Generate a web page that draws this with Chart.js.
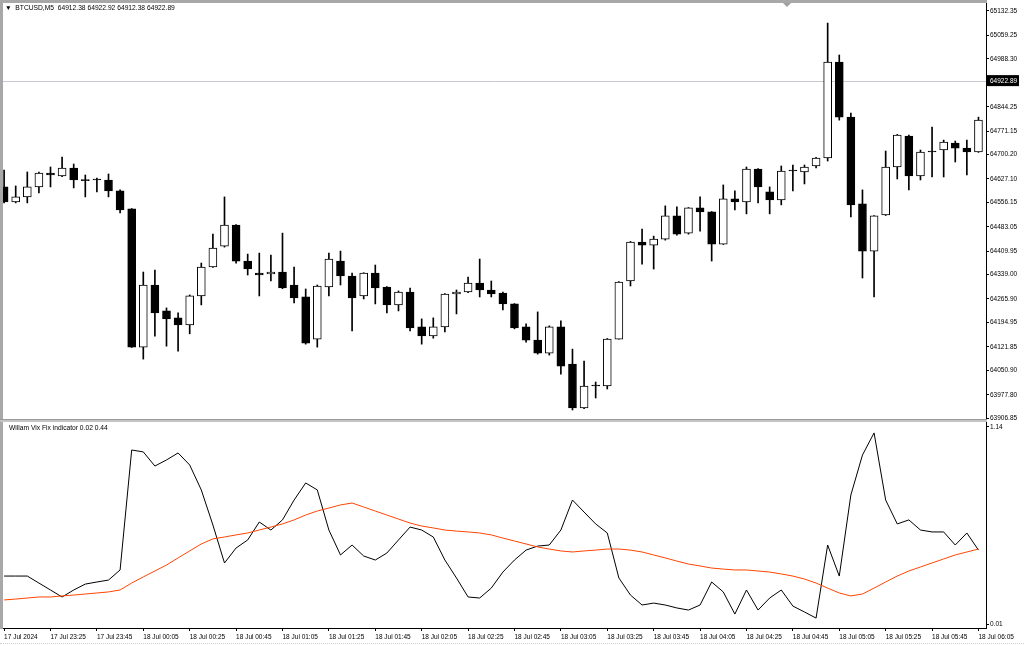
<!DOCTYPE html>
<html>
<head>
<meta charset="utf-8">
<script src="https://cdn.jsdelivr.net/npm/chart.js@4.4.1/dist/chart.umd.min.js"></script>
<style>
  html, body { margin: 0; padding: 0; background: #fff; }
  body { width: 1024px; height: 646px; position: relative; overflow: hidden; font-family: 'Liberation Sans', Arial, sans-serif; }
  canvas { position: absolute; left: 0; }
  #mainChart { top: 0; }
  #vixChart { top: 419px; }
  .frameL { position: absolute; left: 0; top: 0; width: 3px; height: 629px; background: #a8a8a8; }
  .frameT { position: absolute; left: 0; top: 0; width: 987px; height: 3px; background: #a8a8a8; }
  .sep { position: absolute; left: 0; top: 419px; width: 987px; height: 3px; background: #c4c4c4; border-top: 1px solid #9a9a9a; box-sizing: border-box; }
  .dots { position: absolute; left: 0; top: 643px; width: 1024px; border-top: 1px dotted #d0d0d0; }
  .title { position: absolute; left: 5px; top: 4px; font-size: 6.7px; color: #000; white-space: pre; }
  .ind { position: absolute; left: 9px; top: 424px; font-size: 6.7px; color: #000; white-space: pre; }
</style>
</head>
<body>
<canvas id="mainChart" width="1024" height="422"></canvas>
<canvas id="vixChart" width="1024" height="227"></canvas>
<div class="frameL"></div>
<div class="frameT"></div>
<div class="sep"></div>
<div class="dots"></div>
<div class="title">▼  BTCUSD,M5  64912.38 64922.92 64912.38 64922.89</div>
<div class="ind">Willam Vix Fix indicator 0.02 0.44</div>
<script>
// BTCUSD M5 candles, 17 Jul 23:05 .. 18 Jul 06:05 (one entry per bar)
const opens = [64603,64558,64573,64603,64645,64636,64660,64624,64624,64624,64591,64537,64121,64308,64230,64209,64188,64275,64362,64425,64488,64380,64344,64341,64347,64308,64272,64145,64302,64380,64335,64275,64344,64302,64248,64287,64182,64155,64182,64281,64287,64314,64293,64284,64251,64182,64142,64103,64182,64070,63938,64004,64004,64145,64320,64437,64428,64446,64516,64464,64540,64528,64431,64567,64558,64657,64588,64564,64651,64648,64666,64690,64979,64813,64552,64410,64519,64663,64756,64636,64708,64714,64735,64720,64708];
const highs = [64654,64606,64648,64648,64663,64693,64672,64639,64630,64642,64594,64538,64347,64353,64239,64224,64278,64374,64461,64573,64490,64401,64404,64398,64464,64362,64296,64308,64404,64410,64344,64345,64368,64303,64290,64299,64206,64209,64282,64293,64332,64386,64320,64287,64252,64191,64227,64185,64200,64115,64079,64016,64147,64318,64439,64476,64455,64546,64543,64541,64573,64529,64609,64591,64663,64658,64603,64666,64669,64669,64692,65096,65000,64825,64594,64517,64711,64761,64759,64714,64783,64744,64741,64744,64813];
const lows = [64555,64555,64555,64585,64603,64634,64600,64573,64588,64573,64525,64120,64085,64154,64124,64109,64161,64248,64361,64422,64374,64338,64275,64320,64297,64254,64130,64121,64275,64308,64170,64266,64251,64224,64230,64170,64130,64148,64167,64221,64285,64272,64272,64233,64176,64136,64100,64097,64040,63932,63936,63968,63995,64145,64305,64371,64356,64443,64458,64461,64470,64380,64430,64534,64522,64555,64522,64549,64591,64612,64660,64681,64804,64513,64329,64272,64517,64627,64594,64624,64633,64633,64678,64639,64707];
const closes = [64558,64573,64603,64645,64639,64660,64624,64622,64624,64591,64534,64121,64308,64224,64206,64188,64275,64362,64419,64488,64380,64356,64338,64347,64299,64269,64133,64305,64386,64335,64269,64344,64299,64248,64287,64179,64155,64182,64281,64287,64314,64293,64281,64251,64179,64142,64103,64182,64064,63938,64004,64004,64145,64317,64437,64428,64446,64516,64461,64540,64528,64431,64567,64558,64657,64603,64564,64651,64651,64663,64690,64979,64813,64549,64410,64516,64663,64759,64636,64708,64708,64738,64720,64708,64804];

// Williams Vix Fix (black) and its average (orange-red)
const vixFix = [0.285,0.285,0.285,0.245,0.205,0.165,0.205,0.239,0.251,0.262,0.320,1.008,0.997,0.916,0.951,0.991,0.922,0.779,0.578,0.360,0.446,0.492,0.595,0.549,0.607,0.721,0.819,0.779,0.549,0.406,0.463,0.400,0.377,0.417,0.492,0.566,0.549,0.509,0.377,0.274,0.165,0.159,0.216,0.308,0.377,0.434,0.457,0.463,0.549,0.721,0.652,0.584,0.532,0.274,0.176,0.119,0.130,0.119,0.102,0.090,0.119,0.251,0.194,0.067,0.205,0.090,0.159,0.205,0.113,0.079,0.044,0.463,0.285,0.750,0.979,1.106,0.721,0.584,0.607,0.549,0.538,0.538,0.463,0.532,0.434];
const vixAvg = [0.148,0.153,0.159,0.165,0.165,0.171,0.176,0.182,0.188,0.194,0.205,0.245,0.280,0.314,0.348,0.389,0.429,0.469,0.498,0.509,0.521,0.532,0.549,0.566,0.584,0.607,0.635,0.658,0.675,0.693,0.704,0.681,0.658,0.635,0.612,0.589,0.572,0.561,0.549,0.543,0.538,0.532,0.521,0.503,0.486,0.469,0.452,0.440,0.429,0.423,0.429,0.434,0.440,0.440,0.434,0.423,0.406,0.389,0.371,0.354,0.343,0.331,0.325,0.320,0.320,0.314,0.308,0.297,0.285,0.268,0.245,0.216,0.188,0.171,0.182,0.216,0.251,0.285,0.314,0.337,0.360,0.383,0.406,0.423,0.440];

// axis labels
const priceTicks = [65132.35,65059.25,64988.30,64844.25,64771.15,64700.20,64627.10,64556.15,64483.05,64409.95,64339.00,64265.90,64194.95,64121.85,64050.90,63977.80,63906.85];
const vixTicks = [0.01, 1.14];
const timeTickBars = [0,4,8,12,16,20,24,28,32,36,40,44,48,52,56,60,64,68,72,76,80,84];
const timeLabels = ['17 Jul 2024','17 Jul 23:25','17 Jul 23:45','18 Jul 00:05','18 Jul 00:25','18 Jul 00:45','18 Jul 01:05','18 Jul 01:25','18 Jul 01:45','18 Jul 02:05','18 Jul 02:25','18 Jul 02:45','18 Jul 03:05','18 Jul 03:25','18 Jul 03:45','18 Jul 04:05','18 Jul 04:25','18 Jul 04:45','18 Jul 05:05','18 Jul 05:25','18 Jul 05:45','18 Jul 06:05'];
const bidPrice = 64922.89;

// visible window
const xMin = -0.095, xMax = 84.65;
const priceMin = 63904.8, priceMax = 65156.4;
const vixMin = -0.0129, vixMax = 1.1686;

const FONT = { family: "'Liberation Sans', Arial, sans-serif", size: 6.5 };

const wicks = lows.map((l, i) => ({ x: i, y: [l, highs[i]] }));
const bodies = opens.map((o, i) => ({ x: i, y: [o, closes[i]] }));
const bodyFill = opens.map((o, i) => closes[i] > o ? '#ffffff' : '#000000');

// bid line + black price box, and the little chart-shift marker
const bidPlugin = {
    id: 'bid',
    beforeDatasetsDraw(chart) {
        const { ctx, chartArea } = chart;
        const y = Math.round(chart.scales.y.getPixelForValue(bidPrice)) + 0.5;
        ctx.save();
        ctx.strokeStyle = '#c8c8d0';
        ctx.lineWidth = 1;
        ctx.beginPath();
        ctx.moveTo(chartArea.left, y);
        ctx.lineTo(chartArea.right, y);
        ctx.stroke();
        ctx.restore();
    },
    afterDraw(chart) {
        const { ctx, chartArea } = chart;
        const y = chart.scales.y.getPixelForValue(bidPrice);
        ctx.save();
        ctx.fillStyle = '#000';
        ctx.fillRect(chartArea.right, y - 5.5, 33, 11);
        ctx.fillStyle = '#fff';
        ctx.font = "6.5px 'Liberation Sans', Arial, sans-serif";
        ctx.textBaseline = 'middle';
        ctx.fillText(bidPrice.toFixed(2), chartArea.right + 4, y + 0.5);
        ctx.fillStyle = '#a0a0a0';
        ctx.beginPath();
        ctx.moveTo(783, 3);
        ctx.lineTo(791, 3);
        ctx.lineTo(787, 7);
        ctx.closePath();
        ctx.fill();
        ctx.restore();
    }
};

new Chart(document.getElementById('mainChart'), {
    type: 'bar',
    data: {
        datasets: [
            {
                data: bodies,
                backgroundColor: bodyFill,
                borderColor: '#000',
                borderWidth: 1,
                borderSkipped: false,
                barThickness: 8,
                minBarLength: 1,
                grouped: false,
                order: 0
            },
            {
                data: wicks,
                backgroundColor: '#000',
                borderWidth: 0,
                barThickness: 1,
                grouped: false,
                order: 1
            }
        ]
    },
    options: {
        responsive: false,
        animation: false,
        layout: { padding: { left: 3, top: 3, right: 0, bottom: 3 } },
        plugins: { legend: { display: false }, tooltip: { enabled: false } },
        scales: {
            x: { type: 'linear', display: false, min: xMin, max: xMax, offset: false },
            y: {
                position: 'right',
                min: priceMin,
                max: priceMax,
                beginAtZero: false,
                afterBuildTicks(s) { s.ticks = priceTicks.map(v => ({ value: v })); },
                afterFit(s) { s.width = 38; s.paddingTop = 0; s.paddingBottom = 0; },
                ticks: { autoSkip: false, color: '#000', font: FONT, padding: 1, callback: v => v.toFixed(2) },
                grid: { drawOnChartArea: false, tickLength: 3, color: '#000' },
                border: { color: '#000' }
            }
        }
    },
    plugins: [bidPlugin]
});

new Chart(document.getElementById('vixChart'), {
    type: 'line',
    data: {
        datasets: [
            {
                data: vixAvg.map((v, i) => ({ x: i, y: v })),
                borderColor: '#ff4500',
                borderWidth: 1,
                pointRadius: 0,
                tension: 0,
                order: 0
            },
            {
                data: vixFix.map((v, i) => ({ x: i, y: v })),
                borderColor: '#000',
                borderWidth: 1,
                pointRadius: 0,
                tension: 0,
                order: 1
            }
        ]
    },
    options: {
        responsive: false,
        animation: false,
        layout: { padding: { left: 3, top: 3, right: 0, bottom: 0 } },
        plugins: { legend: { display: false }, tooltip: { enabled: false } },
        scales: {
            x: {
                type: 'linear',
                min: xMin,
                max: xMax,
                afterBuildTicks(s) { s.ticks = timeTickBars.map(v => ({ value: v })); },
                afterFit(s) { s.height = 18; s.paddingLeft = 0; s.paddingRight = 0; },
                ticks: {
                    autoSkip: false, maxRotation: 0, align: 'start', color: '#000', font: FONT, padding: 2,
                    callback: v => timeLabels[timeTickBars.indexOf(v)]
                },
                grid: { drawOnChartArea: false, tickLength: 3, color: '#000' },
                border: { color: '#000' }
            },
            y: {
                position: 'right',
                min: vixMin,
                max: vixMax,
                afterBuildTicks(s) { s.ticks = vixTicks.map(v => ({ value: v })); },
                afterFit(s) { s.width = 38; s.paddingTop = 0; s.paddingBottom = 0; },
                ticks: { autoSkip: false, color: '#000', font: FONT, padding: 1, callback: v => v.toFixed(2) },
                grid: { drawOnChartArea: false, tickLength: 3, color: '#000' },
                border: { color: '#000' }
            }
        }
    }
});
</script>
</body>
</html>
